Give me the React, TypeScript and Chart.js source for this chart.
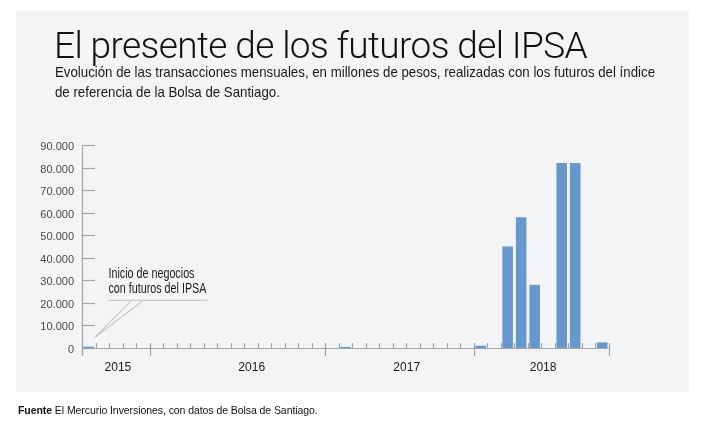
import React, { useEffect, useRef } from "react";
import { Chart, registerables } from "chart.js";

Chart.register(...registerables);

// ---- Data ----
const months = [
  "ago 2015", "sep 2015", "oct 2015", "nov 2015", "dic 2015",
  "ene 2016", "feb 2016", "mar 2016", "abr 2016", "may 2016", "jun 2016",
  "jul 2016", "ago 2016", "sep 2016", "oct 2016", "nov 2016", "dic 2016",
  "ene 2017", "feb 2017", "mar 2017", "abr 2017", "may 2017", "jun 2017",
  "jul 2017", "ago 2017", "sep 2017", "oct 2017", "nov 2017", "dic 2017",
  "ene 2018", "feb 2018", "mar 2018", "abr 2018", "may 2018", "jun 2018",
  "jul 2018", "ago 2018", "sep 2018", "oct 2018",
];

const volumes = [
  600, 0, 0, 0, 0,
  0, 0, 0, 0, 0, 0,
  0, 0, 0, 0, 0, 0,
  0, 0, 500, 0, 0, 0,
  0, 0, 0, 0, 0, 0,
  1000, 0, 45000, 58000, 28000, 0,
  82000, 82000, 0, 2500,
];

const yTicks = [0, 10000, 20000, 30000, 40000, 50000, 60000, 70000, 80000, 90000];

const yearLabels = ["2015", "2016", "2017", "2018"];
// index of the first month drawn under each year tick (last entry = end of axis)
const yearTickIdx = [0, 5, 18, 29, 39];

const titleText = "El presente de los futuros del IPSA";
const subtitleLines = [
  "Evolución de las transacciones mensuales, en millones de pesos, realizadas con los futuros del índice",
  "de referencia de la Bolsa de Santiago.",
];
const sourceBold = "Fuente";
const sourceText = " El Mercurio Inversiones, con datos de Bolsa de Santiago.";

const annotationLines = ["Inicio de negocios", "con futuros del IPSA"];
const annotationTip = { index: 0.42, value: 4500 };

// ---- Styles ----
const BAR_COLOR = "#6598cc";
const AXIS_COLOR = "#a4a4a4";
const PANEL_BG = "#f3f4f6";
const YEAR_LABEL_SHIFT = [0.16, 1.06, 0.53, 0.12]; // in months, relative to year-span centre
const NARROW_FONT = "'Liberation Sans', Arial, sans-serif";

function fmt(n: number): string {
  return String(n).replace(/\B(?=(\d{3})+(?!\d))/g, ".");
}

let measureCtx: CanvasRenderingContext2D | null = null;
function measure(text: string, font: string): number {
  if (!measureCtx) measureCtx = document.createElement("canvas").getContext("2d");
  if (!measureCtx) return 1;
  measureCtx.font = font;
  return measureCtx.measureText(text).width;
}

const axesPlugin = {
  id: "customAxes",
  beforeDatasetsDraw(chart: any) {
    const { ctx, chartArea } = chart;
    const xs = chart.scales.x;
    const ys = chart.scales.y;
    const half = (xs.getPixelForValue(1) - xs.getPixelForValue(0)) / 2;
    const boundary = (k: number) => xs.getPixelForValue(k) - half;
    const y0 = Math.round(ys.getPixelForValue(0));
    const left = chartArea.left;
    const right = boundary(months.length);

    ctx.save();
    ctx.strokeStyle = AXIS_COLOR;
    ctx.lineWidth = 1.2;

    // y axis line
    ctx.beginPath();
    ctx.moveTo(left + 0.5, ys.getPixelForValue(yTicks[yTicks.length - 1]));
    ctx.lineTo(left + 0.5, y0 + 8);
    ctx.stroke();

    // y ticks (inward) and labels
    ctx.font = "11px 'Liberation Sans', Arial, sans-serif";
    ctx.fillStyle = "#4a4a4a";
    ctx.textAlign = "right";
    ctx.textBaseline = "middle";
    for (const v of yTicks) {
      const py = Math.round(ys.getPixelForValue(v)) + 0.5;
      ctx.beginPath();
      ctx.moveTo(left, py);
      ctx.lineTo(left + 13, py);
      ctx.stroke();
      ctx.fillText(fmt(v), left - 8, py + 1);
    }

    // baseline
    ctx.beginPath();
    ctx.moveTo(left, y0 + 0.5);
    ctx.lineTo(right, y0 + 0.5);
    ctx.stroke();

    // minor month ticks
    for (let k = 1; k < months.length; k++) {
      const px = Math.round(boundary(k)) + 0.5;
      ctx.beginPath();
      ctx.moveTo(px, y0 - 5);
      ctx.lineTo(px, y0);
      ctx.stroke();
    }
    // major year ticks
    for (const k of yearTickIdx) {
      const px = Math.round(boundary(k)) + 0.5;
      ctx.beginPath();
      ctx.moveTo(px, y0 - 5);
      ctx.lineTo(px, y0 + 8);
      ctx.stroke();
    }

    // year labels
    ctx.font = "12px 'Liberation Sans', Arial, sans-serif";
    ctx.fillStyle = "#1a1a1a";
    ctx.textAlign = "center";
    ctx.textBaseline = "middle";
    yearLabels.forEach((lab, i) => {
      const c = (yearTickIdx[i] + yearTickIdx[i + 1]) / 2 + YEAR_LABEL_SHIFT[i];
      ctx.fillText(lab, boundary(c), y0 + 20);
    });

    // annotation
    const tx = xs.getPixelForValue(annotationTip.index);
    const ty = ys.getPixelForValue(annotationTip.value);
    ctx.strokeStyle = "#c9c9c9";
    ctx.lineWidth = 1.3;
    ctx.beginPath();
    ctx.moveTo(tx + 14, ty - 37.5);
    ctx.lineTo(tx + 113, ty - 37.5);
    ctx.moveTo(tx + 37, ty - 37.5);
    ctx.lineTo(tx, ty);
    ctx.lineTo(tx + 49, ty - 37.5);
    ctx.stroke();

    const aFont = "14px " + NARROW_FONT;
    ctx.font = aFont;
    const sx = 98 / ctx.measureText(annotationLines[1]).width;
    ctx.fillStyle = "#1a1a1a";
    ctx.textAlign = "left";
    ctx.textBaseline = "alphabetic";
    annotationLines.forEach((line, i) => {
      ctx.save();
      ctx.translate(tx + 14, ty - 60 + i * 15.5);
      ctx.scale(sx, 1);
      ctx.fillText(line, 0, 0);
      ctx.restore();
    });

    ctx.restore();
  },
};

export default function App() {
  const canvasRef = useRef<HTMLCanvasElement | null>(null);

  useEffect(() => {
    const canvas = canvasRef.current;
    if (!canvas) return;
    const chart = new Chart(canvas, {
      type: "bar",
      data: {
        labels: months,
        datasets: [
          {
            data: volumes,
            backgroundColor: BAR_COLOR,
            borderWidth: 0,
            barPercentage: 0.78,
            categoryPercentage: 1,
          },
        ],
      },
      options: {
        animation: false,
        responsive: false,
        maintainAspectRatio: false,
        devicePixelRatio: 1,
        layout: { padding: { left: 82, right: 94, top: 145, bottom: 88 } },
        scales: {
          x: { display: false, offset: true },
          y: { display: false, min: 0, max: 90000 },
        },
        plugins: {
          legend: { display: false },
          tooltip: { enabled: false },
          title: { display: false },
        },
      },
      plugins: [axesPlugin],
    });
    return () => chart.destroy();
  }, []);

  const subFont = "14.5px " + NARROW_FONT;
  const subScale = 600 / measure(subtitleLines[0], subFont);

  return (
    <div style={{ position: "fixed", left: 0, top: 0, width: 703, height: 436, background: "#ffffff", overflow: "hidden" }}>
      <div style={{ position: "absolute", left: 16, top: 11, width: 673, height: 381, background: PANEL_BG }} />
      <canvas ref={canvasRef} width={703} height={436} style={{ position: "absolute", left: 0, top: 0, width: 703, height: 436 }} />
      <div
        style={{
          position: "absolute",
          left: 54,
          top: 24,
          fontFamily: "Roboto, 'Liberation Sans', sans-serif",
          fontWeight: 300,
          fontSize: 37,
          lineHeight: "44px",
          color: "#111",
          whiteSpace: "nowrap",
          letterSpacing: "-0.6px",
        }}
      >
        {titleText}
      </div>
      <div
        style={{
          position: "absolute",
          left: 55,
          top: 62,
          fontFamily: NARROW_FONT,
          fontSize: 14.5,
          lineHeight: "20px",
          color: "#1a1a1a",
          whiteSpace: "nowrap",
          transform: `scaleX(${subScale})`,
          transformOrigin: "0 0",
        }}
      >
        {subtitleLines.map((l, i) => (
          <div key={i}>{l}</div>
        ))}
      </div>
      <div
        style={{
          position: "absolute",
          left: 18,
          top: 403,
          fontFamily: "'Liberation Sans', Arial, sans-serif",
          fontSize: 10.5,
          lineHeight: "14px",
          color: "#111",
          whiteSpace: "nowrap",
          letterSpacing: "-0.07px",
        }}
      >
        <b>{sourceBold}</b>
        {sourceText}
      </div>
    </div>
  );
}
